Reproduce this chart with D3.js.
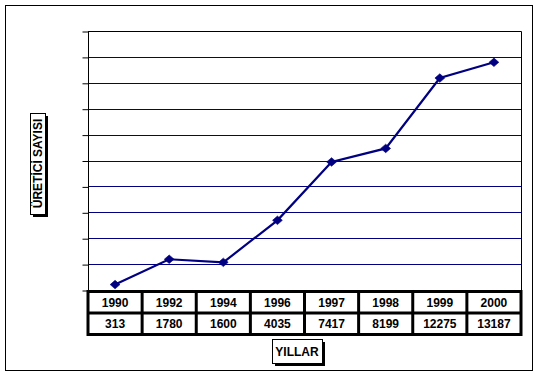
<!DOCTYPE html>
<html lang="tr">
<head>
<meta charset="UTF-8">
<title>Üretici sayısı</title>
<style>
  body { margin: 0; background: #fff; }
  text { font-family: Arial, "Liberation Sans", sans-serif; font-weight: bold; }
</style>
</head>
<body>
<svg width="538" height="376"></svg>
<script src="https://d3js.org/d3.v7.min.js"></script>
<script>
var years = ["1990", "1992", "1994", "1996", "1997", "1998", "1999", "2000"]
var producers = [313, 1780, 1600, 4035, 7417, 8199, 12275, 13187]
var yTicks = d3.range(0, 15001, 1500)

var svg = d3.select("svg")
var plot = { left: 88, right: 521, top: 31, bottom: 290 }
var rowH = 21.5

// outer chart frame
svg.append("rect").attr("x", 5.5).attr("y", 5.5).attr("width", 527).attr("height", 365)
    .attr("fill", "#fff").attr("stroke", "#000").attr("stroke-width", 1)

var x = d3.scaleBand().domain(years).range([plot.left, plot.right])
var y = d3.scaleLinear().domain([0, 15000]).range([plot.bottom, plot.top])

// gridlines
svg.selectAll("line.grid").data(yTicks.slice(1, -1)).enter().append("line")
    .attr("class", "grid")
    .attr("x1", plot.left).attr("x2", plot.right)
    .attr("y1", function (d) { return Math.round(y(d)) + 0.5 })
    .attr("y2", function (d) { return Math.round(y(d)) + 0.5 })
    .attr("stroke", "#000080").attr("stroke-width", 1)

// plot area border (top + right) and value axis
svg.append("path")
    .attr("d", "M" + plot.left + "," + (plot.top + 0.5) + "H" + (plot.right + 0.5) + "V" + plot.bottom)
    .attr("fill", "none").attr("stroke", "#000")

var yAxis = d3.axisLeft(y).tickValues(yTicks).tickSize(6).tickFormat("")
svg.append("g").attr("transform", "translate(" + (plot.left + 0.5) + ",0.5)").call(yAxis)
    .call(function (g) {
        g.selectAll("line, path").attr("stroke", "#000")
        g.select(".domain").attr("d", "M0," + plot.top + "V" + plot.bottom)
    })

// series line
var line = d3.line()
    .x(function (d, i) { return x(years[i]) + x.bandwidth() / 2 })
    .y(function (d) { return y(d) })
svg.append("path").datum(producers).attr("d", line)
    .attr("fill", "none").attr("stroke", "#000080").attr("stroke-width", 2.2)

svg.selectAll("path.mark").data(producers).enter().append("path")
    .attr("class", "mark")
    .attr("d", d3.symbol().type(d3.symbolDiamond2).size(46))
    .attr("transform", function (d, i) {
        return "translate(" + (x(years[i]) + x.bandwidth() / 2) + "," + y(d) + ") scale(1.15,1)"
    })
    .attr("fill", "#000080").attr("stroke", "#000080").attr("stroke-width", 0.6)

// data table
var table = svg.append("g")
var tTop = plot.bottom + 1.5
table.append("rect").attr("x", plot.left).attr("y", tTop)
    .attr("width", plot.right - plot.left).attr("height", rowH * 2)
    .attr("fill", "none").attr("stroke", "#000").attr("stroke-width", 3)
table.append("line").attr("x1", plot.left).attr("x2", plot.right)
    .attr("y1", tTop + rowH).attr("y2", tTop + rowH)
    .attr("stroke", "#000").attr("stroke-width", 3)
table.selectAll("line.col").data(years.slice(1)).enter().append("line")
    .attr("class", "col")
    .attr("x1", function (d) { return x(d) }).attr("x2", function (d) { return x(d) })
    .attr("y1", tTop).attr("y2", tTop + rowH * 2)
    .attr("stroke", "#000").attr("stroke-width", 3)

table.selectAll("text.yr").data(years).enter().append("text")
    .attr("class", "yr")
    .attr("x", function (d) { return x(d) + x.bandwidth() / 2 })
    .attr("y", tTop + rowH / 2 + 4.5)
    .attr("text-anchor", "middle").attr("font-size", 12)
    .text(function (d) { return d })
table.selectAll("text.val").data(producers).enter().append("text")
    .attr("class", "val")
    .attr("x", function (d, i) { return x(years[i]) + x.bandwidth() / 2 })
    .attr("y", tTop + rowH * 1.5 + 4.5)
    .attr("text-anchor", "middle").attr("font-size", 12)
    .text(function (d) { return d })

// boxed titles with drop shadow
function boxTitle(bx, by, bw, bh) {
    svg.append("rect").attr("x", bx + 3).attr("y", by + 3).attr("width", bw).attr("height", bh).attr("fill", "#000")
    svg.append("rect").attr("x", bx + 0.5).attr("y", by + 0.5).attr("width", bw).attr("height", bh)
        .attr("fill", "#fff").attr("stroke", "#000")
}
boxTitle(272, 339, 50, 24)
svg.append("text").attr("x", 297).attr("y", 355.5).attr("text-anchor", "middle")
    .attr("font-size", 12).text("YILLAR")

boxTitle(30, 113, 15, 101)
svg.append("text").attr("transform", "translate(42,163.5) rotate(-90)")
    .attr("text-anchor", "middle").attr("font-size", 12).text("ÜRETİCİ SAYISI")
</script>
</body>
</html>
